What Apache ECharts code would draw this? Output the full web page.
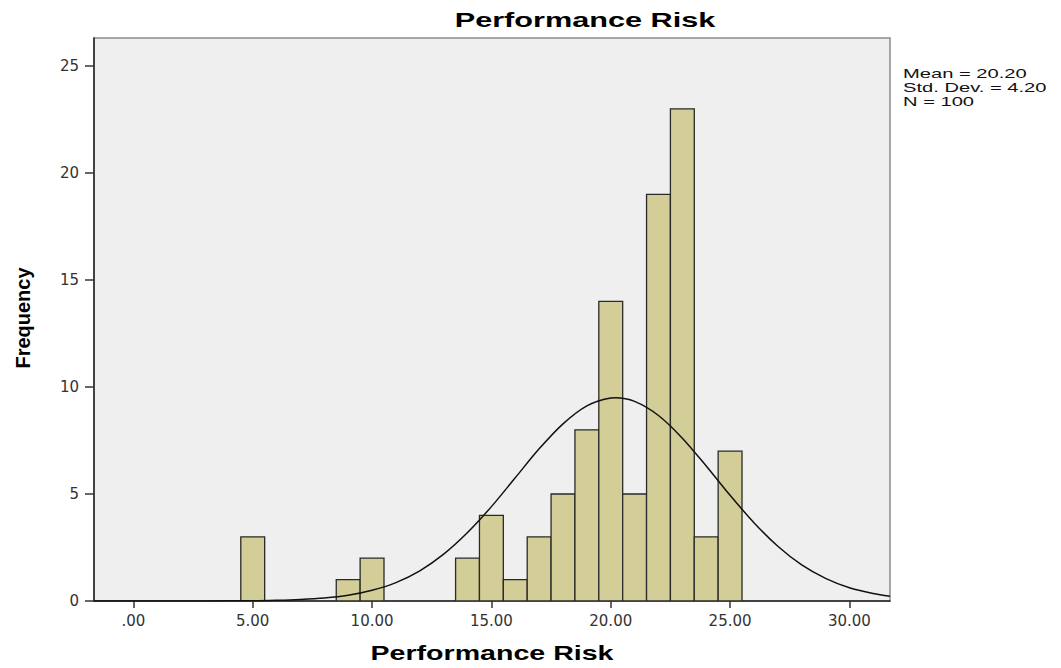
<!DOCTYPE html>
<html>
<head>
<meta charset="utf-8">
<script src="https://cdn.jsdelivr.net/npm/echarts@6/dist/echarts.min.js"></script>
<style>html,body{margin:0;padding:0;background:#fff;}#c{width:1061px;height:668px;}</style>
</head>
<body>
<div id="c"></div>
<script>
// ---- data ----
const chartTitle = 'Performance Risk';
const xAxisTitle = 'Performance Risk';
const yAxisTitle = 'Frequency';
const statsLines = ['Mean = 20.20', 'Std. Dev. = 4.20', 'N = 100'];

const binCenters = [5, 9, 10, 14, 15, 16, 17, 18, 19, 20, 21, 22, 23, 24, 25];
const frequencies = [3, 1, 2, 2, 4, 1, 3, 5, 8, 14, 5, 19, 23, 3, 7];
const binWidth = 1;

// fitted normal curve
const curveX = [-1.65, 0, 2, 4, 5, 6, 7, 8, 9, 10, 11, 12, 13, 14, 15, 16, 17, 18, 19, 20, 20.2, 21, 22, 23, 24, 25, 26, 27, 28, 29, 30, 31, 31.7];
const curveY = [0, 0, 0, 0.01, 0.01, 0.03, 0.07, 0.14, 0.27, 0.50, 0.86, 1.41, 2.19, 3.20, 4.41, 5.76, 7.11, 8.28, 9.12, 9.49, 9.50, 9.33, 8.67, 7.61, 6.31, 4.94, 3.66, 2.56, 1.69, 1.06, 0.62, 0.35, 0.22];

const xTickValues = [0, 5, 10, 15, 20, 25, 30];
const yTickValues = [0, 5, 10, 15, 20, 25];

// ---- chart ----
const chart = echarts.init(document.getElementById('c'), null, {renderer: 'svg'});

const barData = binCenters.map((c, i) => [c - binWidth / 2, c + binWidth / 2, frequencies[i]]);
const curveData = curveX.map((x, i) => [x, curveY[i]]);

const labelFont = 'DejaVu Sans';
const boldFont = 'Liberation Sans, Arial, sans-serif';

chart.setOption({
  animation: false,
  backgroundColor: '#ffffff',
  grid: {
    left: 94, right: 171, top: 38, bottom: 67,
    show: true, backgroundColor: '#efefef', borderColor: '#8c8c8c', borderWidth: 1.5
  },
  xAxis: {
    type: 'value', min: -1.65, max: 31.7,
    axisLine: {show: true, onZero: false, lineStyle: {color: '#222', width: 1.5}},
    axisTick: {show: true, customValues: xTickValues, length: 7, lineStyle: {color: '#333', width: 1.5}},
    axisLabel: {
      customValues: xTickValues, margin: 12,
      fontFamily: labelFont, fontSize: 15, color: '#333',
      formatter: v => (v === 0 ? '.00' : v.toFixed(2))
    },
    splitLine: {show: false}
  },
  yAxis: {
    type: 'value', min: 0, max: 26.31,
    axisLine: {show: true, onZero: false, lineStyle: {color: '#222', width: 1.5}},
    axisTick: {show: true, customValues: yTickValues, length: 9, lineStyle: {color: '#333', width: 1.5}},
    axisLabel: {customValues: yTickValues, margin: 15, fontFamily: labelFont, fontSize: 15, color: '#333',
      formatter: v => String(v)},
    splitLine: {show: false}
  },
  series: [
    {
      type: 'custom',
      clip: true,
      data: barData,
      encode: {x: [0, 1], y: 2},
      renderItem: function (params, api) {
        const p0 = api.coord([api.value(0), api.value(2)]);
        const p1 = api.coord([api.value(1), 0]);
        return {
          type: 'rect',
          shape: {x: p0[0], y: p0[1], width: p1[0] - p0[0], height: p1[1] - p0[1]},
          style: {fill: '#d3ce97', stroke: '#2a2a2a', lineWidth: 1.3}
        };
      }
    },
    {
      type: 'line',
      data: curveData,
      smooth: 0.3,
      showSymbol: false,
      symbol: 'none',
      clip: true,
      lineStyle: {color: '#111', width: 1.5},
      z: 5
    }
  ],
  graphic: [
    {
      type: 'text', x: 585, y: 20, scaleX: 1.46,
      style: {text: chartTitle, font: 'bold 21px ' + boldFont, fill: '#000', textAlign: 'center', textVerticalAlign: 'middle'}
    },
    {
      type: 'text', x: 492, y: 653, scaleX: 1.43,
      style: {text: xAxisTitle, font: 'bold 20px ' + boldFont, fill: '#000', textAlign: 'center', textVerticalAlign: 'middle'}
    },
    {
      type: 'text', x: 23, y: 318, rotation: Math.PI / 2,
      style: {text: yAxisTitle, font: 'bold 20px ' + boldFont, fill: '#000', textAlign: 'center', textVerticalAlign: 'middle'}
    },
    {
      type: 'text', x: 903, y: 67, scaleX: 1.55,
      style: {text: statsLines.join('\n'), font: '13px ' + boldFont, fill: '#111', textAlign: 'left', textVerticalAlign: 'top', lineHeight: 14}
    }
  ]
});
</script>
</body>
</html>
